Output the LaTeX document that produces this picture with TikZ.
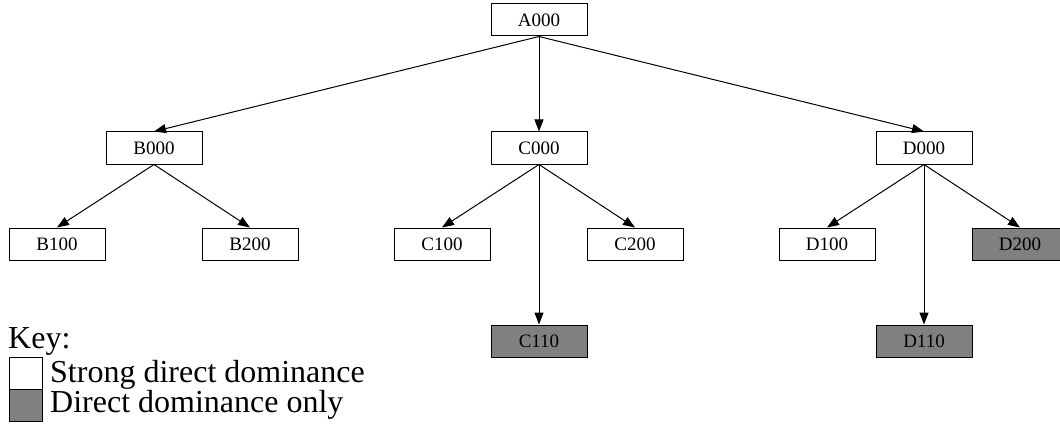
\documentclass[tikz,border=0pt]{standalone}
\usepackage{fontspec}
\setmainfont{Liberation Serif}
\usetikzlibrary{arrows.meta}

\begin{document}
\begin{tikzpicture}[x=1pt,y=-1pt,
    cell/.style={draw,line width=1pt,fill=white,minimum width=96pt,minimum height=32pt,
      inner sep=0pt,font=\fontsize{19}{19}\selectfont},
    weak/.style={cell,fill=gray},
    link/.style={line width=1pt,-{Triangle[length=12pt,width=9pt]}}]
  \useasboundingbox (0,0) rectangle (1060,425);
  \clip (0,0) rectangle (1060,425);
  % root and first level
  \node[cell] (A000) at (539,20) {A000};
  \foreach \name/\x in {B000/154, C000/539, D000/924}{
    \node[cell] (\name) at (\x,148) {\name};
    \draw[link] (A000.south) -- (\name.north);
  }
  % second level
  \foreach \name/\x/\up/\kind in {
    B100/57/B000/cell,
    B200/250/B000/cell,
    C100/442/C000/cell,
    C200/635/C000/cell,
    D100/827/D000/cell,
    D200/1020/D000/weak}{
    \node[\kind] (\name) at (\x,244) {\name};
    \draw[link] (\up.south) -- (\name.north);
  }
  % third level
  \foreach \name/\x/\up in {C110/539/C000, D110/924/D000}{
    \node[weak] (\name) at (\x,341) {\name};
    \draw[link] (\up.south) -- (\name.north);
  }
  % key
  \node[anchor=base west,inner sep=0pt,font=\fontsize{32}{32}\selectfont] (key) at (8,348) {Key:};
  \draw[line width=1pt,fill=white] (9,357) rectangle (42,389);
  \draw[line width=1pt,fill=gray] (9,389) rectangle (42,421);
  \node[anchor=base west,inner sep=0pt,font=\fontsize{32}{32}\selectfont] (strong) at (50,382) {Strong direct dominance};
  \node[anchor=base west,inner sep=0pt,font=\fontsize{32}{32}\selectfont] (direct) at (50,412) {Direct dominance only};
\end{tikzpicture}
\end{document}
